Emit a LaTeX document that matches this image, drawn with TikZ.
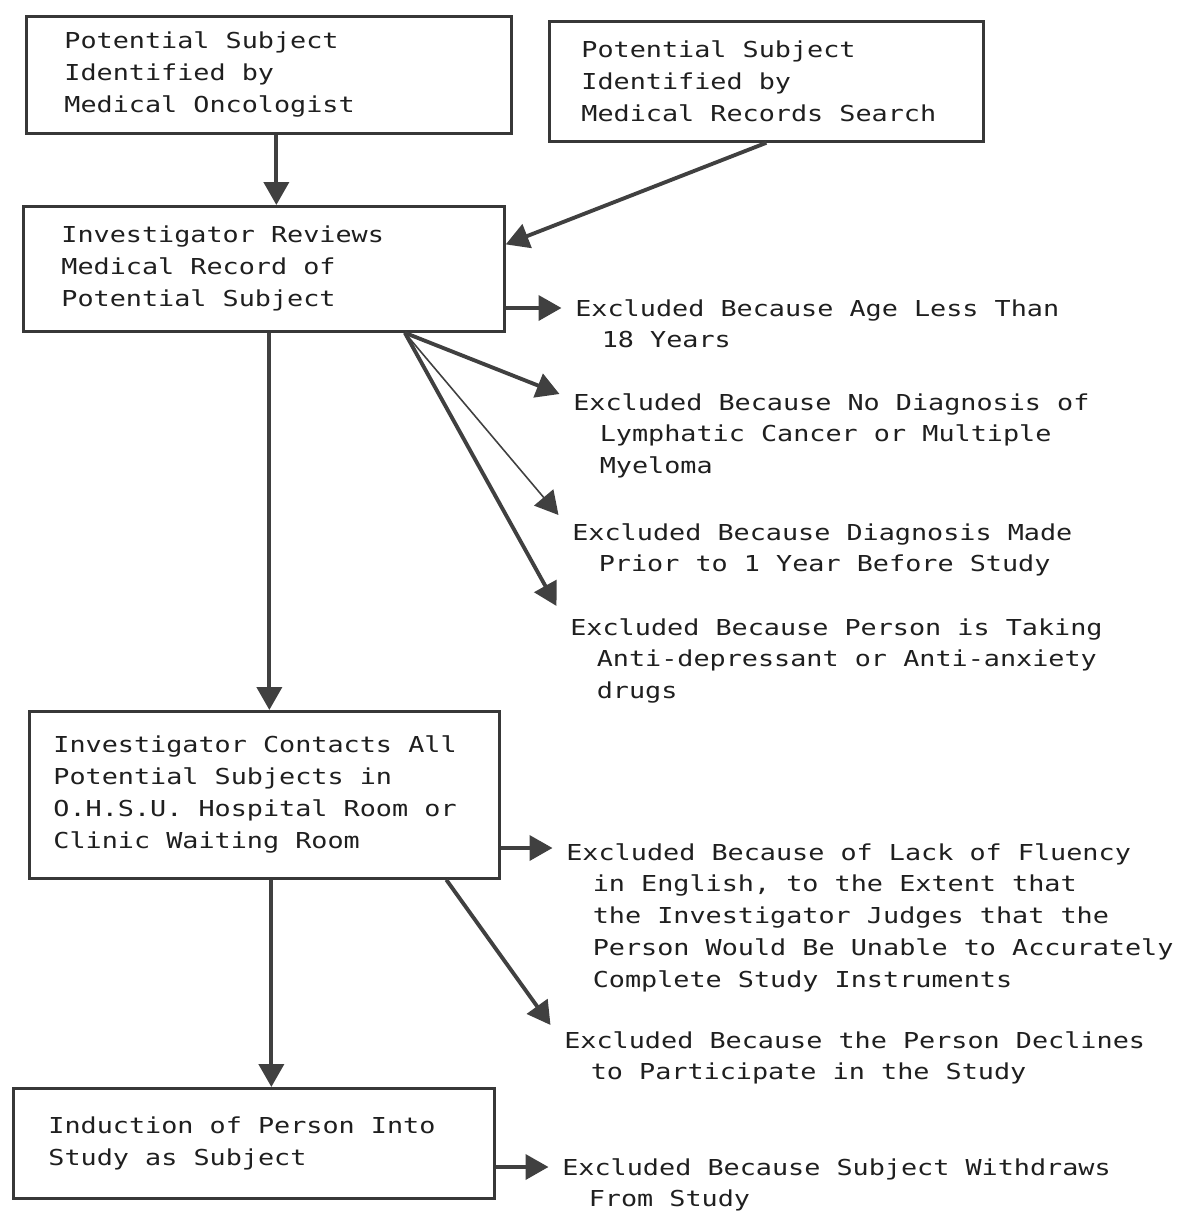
\documentclass[tikz,border=0pt]{standalone}
\usepackage{fontspec}
\newfontfamily\typewr[FakeStretch=1.22]{DejaVu Sans Mono}
\usetikzlibrary{arrows.meta,calc}
\newcommand{\ind}{\hspace*{1.204em}}
\tikzset{
	flowbox/.style={draw=black!78, line width=1.6pt, anchor=north west, align=flush left,
		inner ysep=0pt, text=black!88, font=\typewr\fontsize{12.5}{18.2}\selectfont},
	exnode/.style={anchor=north west, align=left, inner xsep=0.27cm, inner ysep=0pt,
		text=black!88, font=\typewr\fontsize{12.5}{18.1}\selectfont},
	flow/.style={draw=black!75, line width=2.2pt, -{Triangle[length=0.46cm,width=0.5cm]}},
	thinflow/.style={flow, line width=0.9pt}
}

\begin{document}
\begin{tikzpicture}[x=0.02cm,y=-0.02cm]
			\useasboundingbox (0,0) rectangle (1183,1215);
			% boxes of the main path
			\node[flowbox, minimum width=9.7cm, minimum height=2.34cm, inner xsep=0.76cm, text width=8.18cm] (b1) at (25,15)
				{Potential Subject\\Identified by\\Medical Oncologist};
			\node[flowbox, minimum width=8.68cm, minimum height=2.4cm, inner xsep=0.64cm, text width=7.4cm] (b2) at (548,20)
				{Potential Subject\\Identified by\\Medical Records Search};
			\node[flowbox, minimum width=9.62cm, minimum height=2.5cm, inner xsep=0.76cm, text width=8.1cm] (b3) at (22,205)
				{Investigator Reviews\\Medical Record of\\Potential Subject};
			\node[flowbox, minimum width=9.4cm, minimum height=3.34cm, inner xsep=0.48cm, text width=8.44cm] (b4) at (28,710)
				{Investigator Contacts All\\Potential Subjects in\\O.H.S.U. Hospital Room or\\Clinic Waiting Room};
			\node[flowbox, minimum width=9.62cm, minimum height=2.2cm, inner xsep=0.7cm, text width=8.22cm] (b5) at (12,1087)
				{Induction of Person Into\\Study as Subject};
			% exclusions
			\node[exnode] (e1) at (561.5,299) {Excluded Because Age Less Than\\\ind 18 Years};
			\node[exnode] (e2) at (559.5,393) {Excluded Because No Diagnosis of\\\ind Lymphatic Cancer or Multiple\\\ind Myeloma};
			\node[exnode] (e3) at (558.5,523) {Excluded Because Diagnosis Made\\\ind Prior to 1 Year Before Study};
			\node[exnode] (e4) at (556.5,618) {Excluded Because Person is Taking\\\ind Anti-depressant or Anti-anxiety\\\ind drugs};
			\node[exnode] (e5) at (552.5,843) {Excluded Because of Lack of Fluency\\\ind in English, to the Extent that\\\ind the Investigator Judges that the\\\ind Person Would Be Unable to Accurately\\\ind Complete Study Instruments};
			\node[exnode] (e6) at (550.5,1031) {Excluded Because the Person Declines\\\ind to Participate in the Study};
			\node[exnode] (e7) at (548.5,1158) {Excluded Because Subject Withdraws\\\ind From Study};
			\coordinate (fan) at ([xshift=2.82cm]b3.south);
			% arrows
			\draw[flow] ([xshift=0.15cm]b1.south) -- ([xshift=0.15cm]b1.south |- b3.north);
			\draw[flow] (b2.south) -- ([yshift=0.49cm]b3.east);
			\draw[flow] ([yshift=-0.18cm]e1.north west -| b3.east) -- ([yshift=-0.18cm]e1.north west);
			\draw[flow] (fan) -- ([yshift=-0.02cm]e2.north west);
			\draw[thinflow] (fan) -- ([yshift=0.16cm]e3.north west);
			\draw[flow] (fan) -- ([yshift=0.24cm]e4.north west);
			\draw[flow] ([xshift=0.11cm]b3.south) -- ([xshift=0.11cm]b3.south |- b4.north);
			\draw[flow] ([yshift=-0.1cm]e5.north west -| b4.east) -- ([yshift=-0.1cm]e5.north west);
			\draw[flow] ([xshift=3.64cm]b4.south) -- ([yshift=0.12cm]e6.north west);
			\draw[flow] ([xshift=0.14cm]b4.south) -- ([xshift=0.14cm]b4.south |- b5.north);
			\draw[flow] ([yshift=-0.18cm]e7.north west -| b5.east) -- ([yshift=-0.18cm]e7.north west);
\end{tikzpicture}
\end{document}
